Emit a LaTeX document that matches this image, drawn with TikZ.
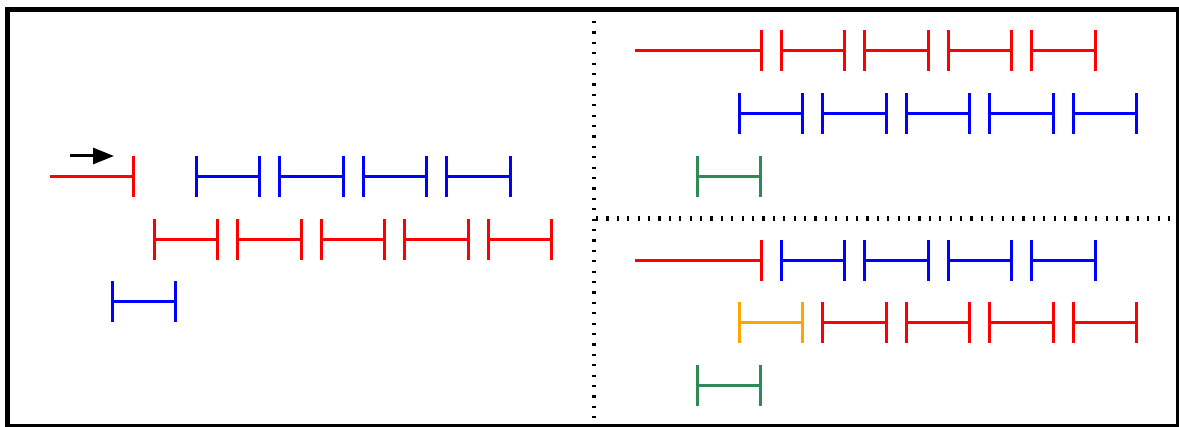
\documentclass[tikz,border=0pt]{standalone}
\usetikzlibrary{arrows.meta}
\definecolor{sgreen}{RGB}{46,139,87}
\definecolor{orng}{RGB}{255,165,0}
\tikzset{
  seg/.style={line width=3pt},
  dotline/.style={line width=4.5pt, dash pattern=on 2.2pt off 8.2pt},
  frame/.style={line width=5pt},
}
\newcommand\ivl[3]{\draw[seg,#1] (#2,#3-20.5) -- (#2,#3+20.5) (#2,#3) -- (#2+63.5,#3) (#2+63.5,#3-20.5) -- (#2+63.5,#3+20.5);}
\newcommand\lead[2]{\draw[seg,red] (#1,#2) -- (#1+126,#2) (#1+126,#2-20.5) -- (#1+126,#2+20.5);}
\begin{document}
\begin{tikzpicture}[x=1pt,y=-1pt]
\useasboundingbox (0,0) rectangle (1179,427);
\fill[white] (0,0) rectangle (1179,427);
% dotted separators
\draw[dotline] (594,21) -- (594,427);
\draw[dotline] (596,218.5) -- (1176,218.5);
% left panel
\draw[line width=3pt,-{Triangle[length=21pt,width=16pt]}] (70,156) -- (114,156);
\draw[seg,red] (50,177) -- (133,177) (133,156.5) -- (133,197.5);
\foreach \x in {196,279.5,363,446.5} {\ivl{blue}{\x}{177}}
\foreach \x in {154,237.5,321,404.5,488} {\ivl{red}{\x}{240}}
\ivl{blue}{112}{302}
% right top
\lead{635}{51}
\foreach \x in {781,864.5,948,1031.5} {\ivl{red}{\x}{51}}
\foreach \x in {739,822.5,906,989.5,1073} {\ivl{blue}{\x}{114}}
\ivl{sgreen}{697}{177}
% right bottom
\lead{635}{260.5}
\foreach \x in {781,864.5,948,1031.5} {\ivl{blue}{\x}{260.5}}
\ivl{orng}{739}{323}
\foreach \x in {822.5,906,989.5,1073} {\ivl{red}{\x}{323}}
\ivl{sgreen}{697}{386}
% frame
\draw[frame] (7.5,9.5) rectangle (1178.5,426.5);
\end{tikzpicture}
\end{document}
